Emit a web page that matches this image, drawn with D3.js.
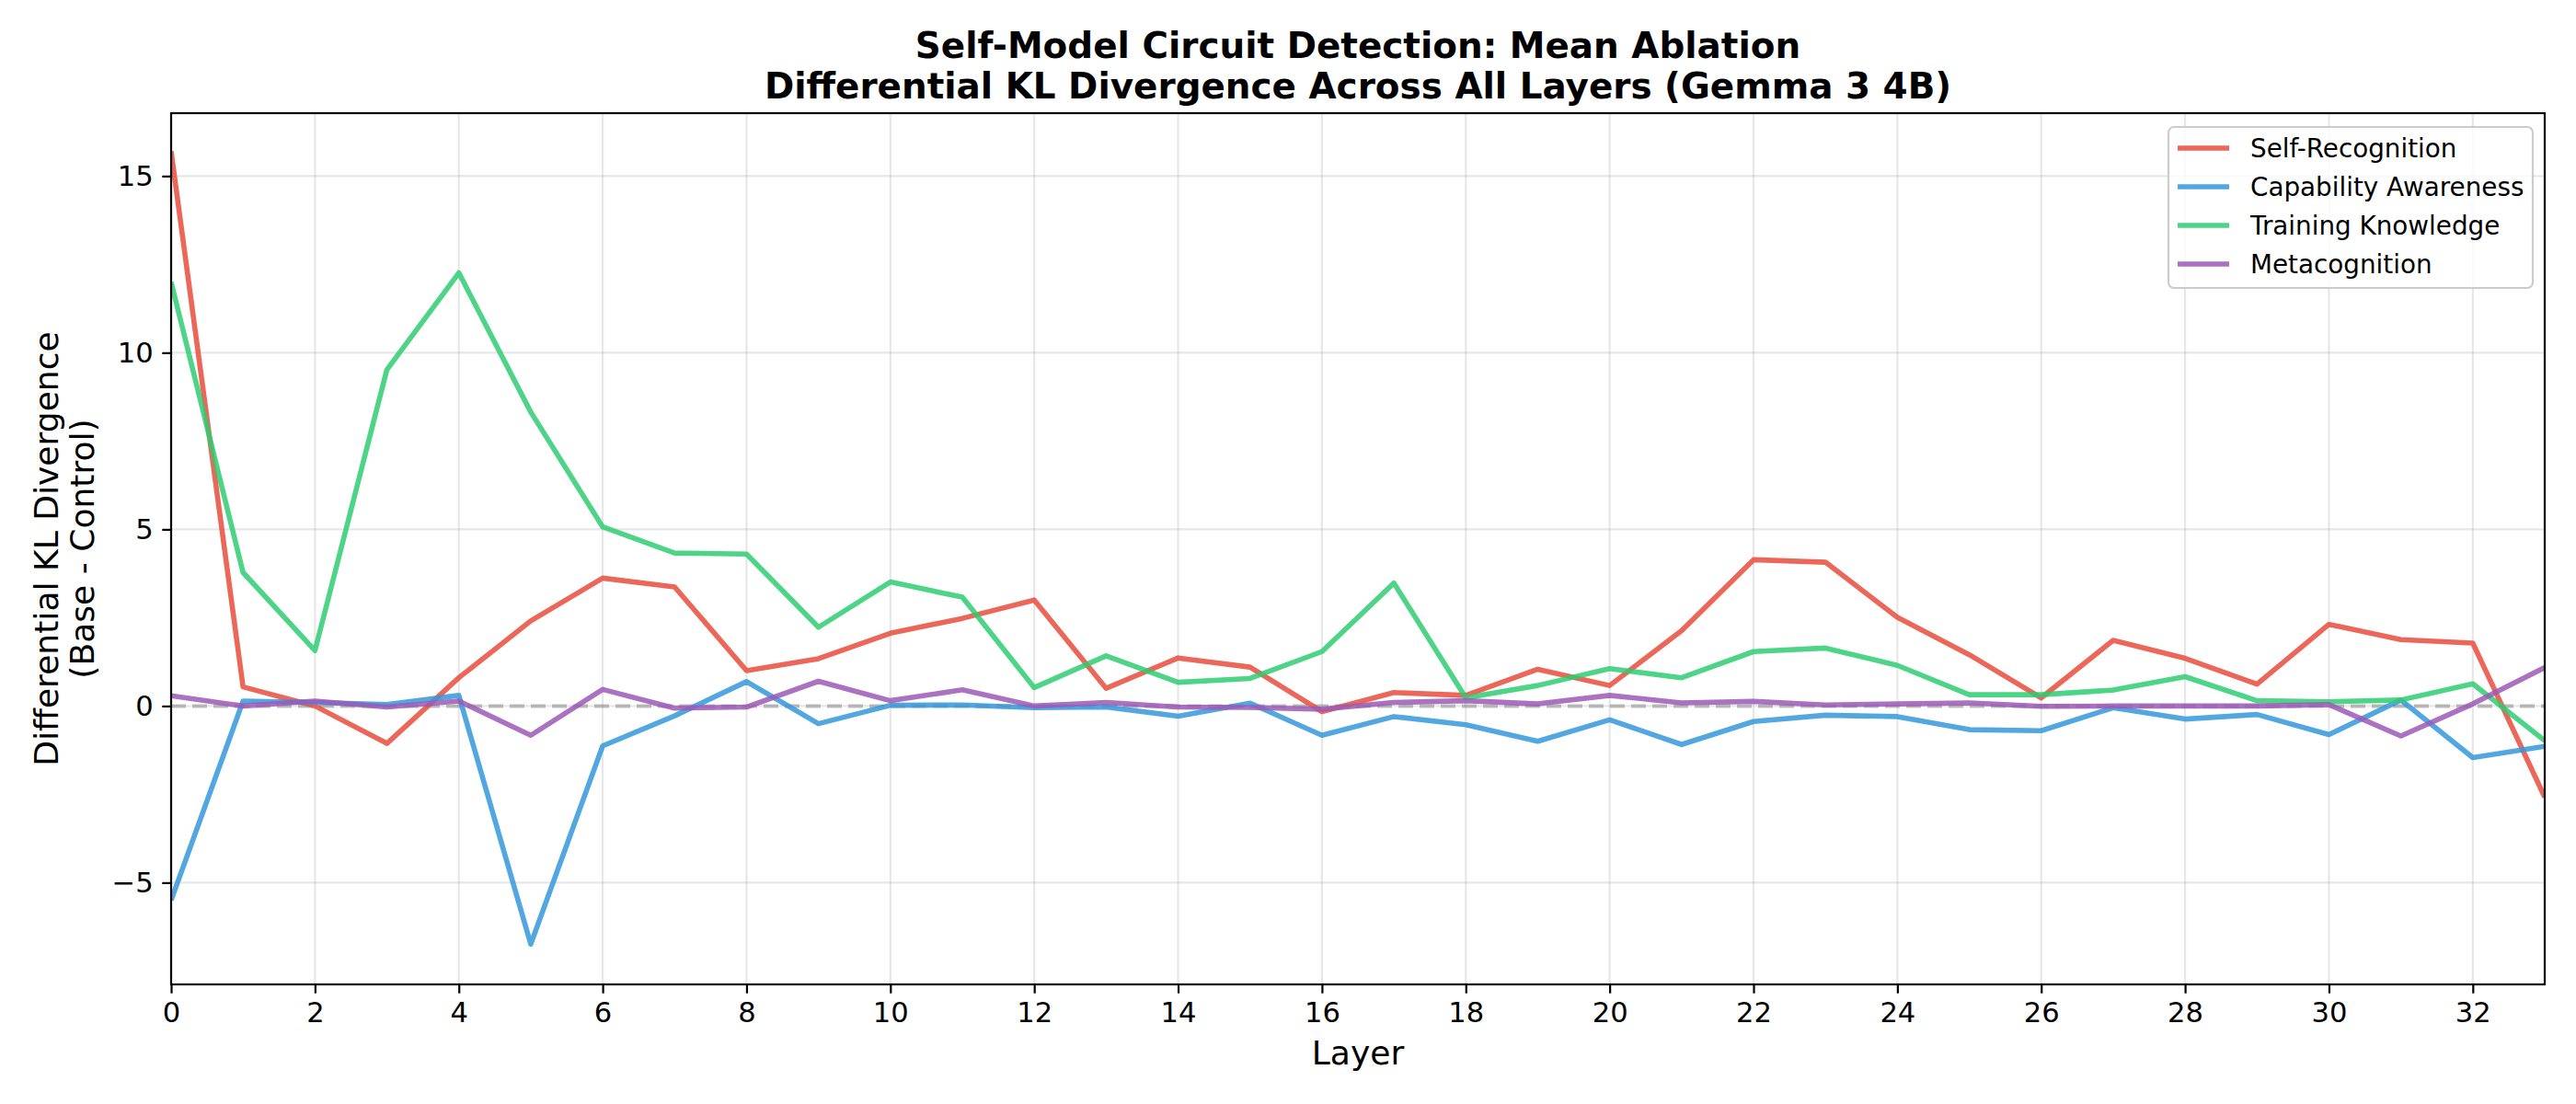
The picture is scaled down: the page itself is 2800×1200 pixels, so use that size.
<!DOCTYPE html>
<html>
<head>
<meta charset="utf-8">
<script src="https://cdn.jsdelivr.net/npm/d3@7"></script>
<style>
  body { margin: 0; background: #fff; }
  svg { display: block; font-family: "DejaVu Sans", sans-serif; }
</style>
</head>
<body>
<svg id="chart" width="2800" height="1200"></svg>
<script>
// values, one per layer 0..33
const layers = d3.range(0, 34);
const selfRecognition = [15.7, 0.54, 0.0, -1.06, 0.8, 2.41, 3.62, 3.37, 1.0, 1.34, 2.06, 2.48, 3.0, 0.5,
  1.36, 1.1, -0.16, 0.38, 0.3, 1.04, 0.58, 2.13, 4.14, 4.07, 2.51, 1.45, 0.23, 1.86, 1.35, 0.62, 2.31, 1.88, 1.78, -2.58];
const capabilityAwareness = [-5.5, 0.14, 0.1, 0.04, 0.3, -6.74, -1.13, -0.28, 0.69, -0.5, 0.02, 0.03, -0.05, -0.03,
  -0.29, 0.08, -0.83, -0.3, -0.53, -1.0, -0.39, -1.09, -0.44, -0.26, -0.3, -0.67, -0.7, -0.05, -0.37, -0.24, -0.81, 0.17, -1.46, -1.14];
const trainingKnowledge = [12.0, 3.78, 1.57, 9.52, 12.26, 8.32, 5.07, 4.33, 4.3, 2.23, 3.51, 3.08, 0.52, 1.42,
  0.67, 0.78, 1.54, 3.48, 0.23, 0.58, 1.06, 0.8, 1.54, 1.64, 1.15, 0.32, 0.32, 0.45, 0.83, 0.15, 0.12, 0.17, 0.63, -0.98];
const metacognition = [0.29, 0.0, 0.14, -0.03, 0.14, -0.83, 0.47, -0.06, -0.03, 0.7, 0.15, 0.46, 0.0, 0.1,
  -0.03, -0.04, -0.09, 0.1, 0.15, 0.06, 0.3, 0.09, 0.13, 0.03, 0.06, 0.09, -0.01, 0.0, 0.0, 0.0, 0.04, -0.85, 0.06, 1.09];

const seriesNames = ["Self-Recognition", "Capability Awareness", "Training Knowledge", "Metacognition"];
const seriesValues = [selfRecognition, capabilityAwareness, trainingKnowledge, metacognition];
const seriesColors = ["#e74c3c", "#3498db", "#2ecc71", "#9b59b6"];

const xTicks = d3.range(0, 33, 2);
const yTicks = [-5, 0, 5, 10, 15];

const svg = d3.select("#chart");

// plot area in page pixels
const plotLeft = 186, plotRight = 2766, plotTop = 123, plotBottom = 1070;
const x = d3.scaleLinear().domain([0, 33]).range([plotLeft, plotRight]);
const y = d3.scaleLinear().domain([-7.88, 16.78]).range([plotBottom, plotTop]);

// grid
const grid = svg.append("g");
xTicks.forEach((t) => {
  grid.append("line")
    .attr("x1", x(t)).attr("x2", x(t))
    .attr("y1", plotTop).attr("y2", plotBottom)
    .attr("stroke", "#b0b0b0").attr("stroke-opacity", 0.3)
    .attr("stroke-width", 2.2);
});
yTicks.forEach((t) => {
  grid.append("line")
    .attr("x1", plotLeft).attr("x2", plotRight)
    .attr("y1", y(t)).attr("y2", y(t))
    .attr("stroke", "#b0b0b0").attr("stroke-opacity", 0.3)
    .attr("stroke-width", 2.2);
});

// zero reference line
svg.append("line")
  .attr("x1", plotLeft).attr("x2", plotRight)
  .attr("y1", y(0)).attr("y2", y(0))
  .attr("stroke", "#808080").attr("stroke-opacity", 0.5)
  .attr("stroke-width", 4)
  .attr("stroke-dasharray", "16,7");

svg.append("clipPath").attr("id", "plotclip")
  .append("rect")
  .attr("x", plotLeft).attr("y", plotTop)
  .attr("width", plotRight - plotLeft).attr("height", plotBottom - plotTop);

const line = d3.line()
  .x((d, i) => x(layers[i]))
  .y((d) => y(d));

seriesValues.forEach((vals, i) => {
  svg.append("path")
    .datum(vals)
    .attr("clip-path", "url(#plotclip)")
    .attr("fill", "none")
    .attr("stroke", seriesColors[i])
    .attr("stroke-opacity", 0.85)
    .attr("stroke-width", 5.6)
    .attr("stroke-linejoin", "round")
    .attr("d", line);
});

// axes
const xAxis = d3.axisBottom(x).tickValues(xTicks).tickSize(9.7).tickPadding(9.7).tickFormat(d3.format("d"));
const yAxis = d3.axisLeft(y).tickValues(yTicks).tickSize(9.7).tickPadding(9.7).tickFormat(d3.format("d"));

const gx = svg.append("g").attr("transform", `translate(0,${plotBottom})`).call(xAxis);
const gy = svg.append("g").attr("transform", `translate(${plotLeft},0)`).call(yAxis);
[gx, gy].forEach((g) => {
  g.select(".domain").remove();
  g.selectAll(".tick line").attr("stroke", "#000").attr("stroke-width", 2.2);
  g.selectAll(".tick text")
    .attr("fill", "#000")
    .style("font-family", "DejaVu Sans")
    .style("font-size", "30.6px");
});

// frame
svg.append("rect")
  .attr("x", plotLeft).attr("y", plotTop)
  .attr("width", plotRight - plotLeft).attr("height", plotBottom - plotTop)
  .attr("fill", "none")
  .attr("stroke", "#000")
  .attr("stroke-width", 2.2);

// titles
svg.append("text")
  .attr("x", (plotLeft + plotRight) / 2).attr("y", 63)
  .attr("text-anchor", "middle")
  .style("font-size", "38.9px").style("font-weight", "bold")
  .text("Self-Model Circuit Detection: Mean Ablation");
svg.append("text")
  .attr("x", (plotLeft + plotRight) / 2).attr("y", 107)
  .attr("text-anchor", "middle")
  .style("font-size", "38.9px").style("font-weight", "bold")
  .text("Differential KL Divergence Across All Layers (Gemma 3 4B)");

svg.append("text")
  .attr("x", (plotLeft + plotRight) / 2).attr("y", 1157)
  .attr("text-anchor", "middle")
  .style("font-size", "36.1px")
  .text("Layer");

const ylab = svg.append("text")
  .attr("transform", `translate(63,${(plotTop + plotBottom) / 2}) rotate(-90)`)
  .attr("text-anchor", "middle")
  .style("font-size", "36.1px");
ylab.append("tspan").attr("x", 0).attr("dy", 0).text("Differential KL Divergence");
ylab.append("tspan").attr("x", 0).attr("dy", 39).text("(Base - Control)");

// legend
const legend = svg.append("g");
legend.append("rect")
  .attr("x", 2357).attr("y", 138)
  .attr("width", 396).attr("height", 175)
  .attr("rx", 6)
  .attr("fill", "#fff").attr("fill-opacity", 0.8)
  .attr("stroke", "#cccccc").attr("stroke-width", 2.2);
seriesNames.forEach((name, i) => {
  const ly = 161 + i * 42;
  legend.append("line")
    .attr("x1", 2367).attr("x2", 2423)
    .attr("y1", ly).attr("y2", ly)
    .attr("stroke", seriesColors[i]).attr("stroke-opacity", 0.85)
    .attr("stroke-width", 5.6);
  legend.append("text")
    .attr("x", 2446).attr("y", ly)
    .attr("dominant-baseline", "central")
    .style("font-size", "27.8px")
    .text(name);
});
</script>
</body>
</html>
